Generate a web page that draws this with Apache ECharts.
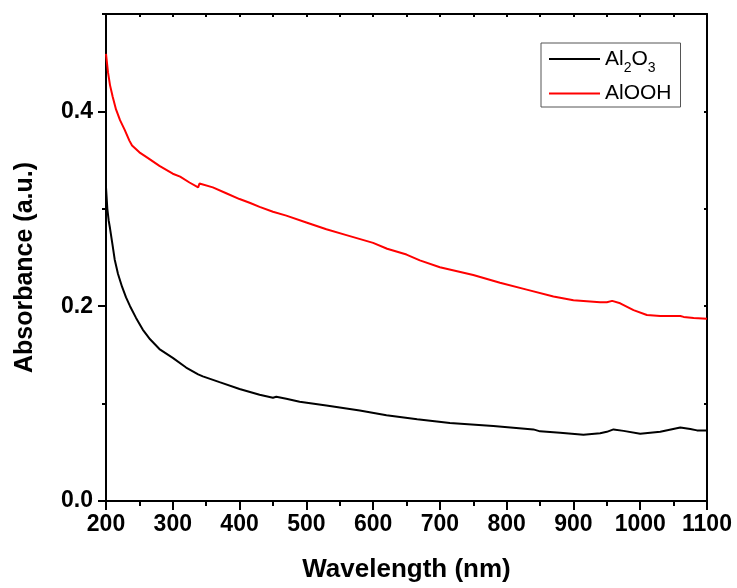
<!DOCTYPE html>
<html>
<head>
<meta charset="utf-8">
<script src="https://cdn.jsdelivr.net/npm/echarts@6/dist/echarts.min.js"></script>
<style>html,body{margin:0;padding:0;background:#fff}#c{width:737px;height:588px}</style>
</head>
<body>
<div id="c"></div>
<script>
// Al2O3 curve
var al2o3Wavelength = [200,202,204,206,210,213,218,224,230,236,245,255,266,280,300,320,338,340,345,370,400,430,450,455,470,490,530,580,620,666,715,780,840,850,880,915,940,950,960,975,1000,1030,1060,1075,1085,1100];
var al2o3Absorbance = [0.322,0.300,0.288,0.280,0.262,0.248,0.233,0.220,0.209,0.200,0.188,0.176,0.166,0.156,0.147,0.137,0.130,0.1305,0.128,0.122,0.115,0.109,0.106,0.107,0.105,0.102,0.098,0.093,0.088,0.084,0.080,0.077,0.0735,0.0715,0.070,0.068,0.0695,0.071,0.0735,0.072,0.069,0.071,0.0755,0.074,0.0725,0.0725];
// AlOOH curve
var aloohWavelength = [200,203,206,210,215,221,228,235,239,250,263,280,300,311,325,338,340,341,360,380,400,416,430,450,470,500,530,560,600,621,650,670,700,750,790,830,870,900,940,950,958,970,990,1010,1030,1050,1060,1065,1080,1100];
var aloohAbsorbance = [0.459,0.440,0.427,0.415,0.402,0.391,0.381,0.370,0.365,0.358,0.352,0.344,0.336,0.333,0.327,0.322,0.326,0.327,0.322,0.316,0.310,0.306,0.302,0.297,0.293,0.286,0.279,0.273,0.265,0.259,0.253,0.247,0.240,0.232,0.224,0.217,0.210,0.206,0.204,0.204,0.2055,0.203,0.196,0.191,0.190,0.190,0.190,0.189,0.188,0.187];
var xTicks = [200,300,400,500,600,700,800,900,1000,1100];
var yLabelValues = [0.0,0.2,0.4];
var yMinorValues = [0.1,0.3,0.5];

function pairs(xs, ys){ return xs.map(function(x,i){ return [x, ys[i]]; }); }

var FF = "'Liberation Sans', Arial, sans-serif";
var black = '#000';
var chart = echarts.init(document.getElementById('c'));
chart.setOption({
  animation: false,
  backgroundColor: '#fff',
  grid: {left: 106, right: 30, top: 14, bottom: 85, containLabel: false},
  legend: {
    orient: 'vertical', left: 541, top: 43,
    itemWidth: 51, itemHeight: 2, icon: 'rect', itemGap: 8,
    borderColor: '#555', borderWidth: 1, padding: [0, 9, 3, 8],
    data: ['Al2O3', 'AlOOH'],
    formatter: function(name){ return name === 'Al2O3' ? '{n|Al}{s|2}{n|O}{s|3}' : '{n|AlOOH}'; },
    textStyle: {
      color: black, fontFamily: FF,
      rich: {
        n: {fontSize: 21, fontFamily: FF, color: black, lineHeight: 22, verticalAlign: 'middle'},
        s: {fontSize: 14, fontFamily: FF, color: black, lineHeight: 22, verticalAlign: 'middle', padding: [18, 0, 0, 0]}
      }
    }
  },
  xAxis: [{
    type: 'value', min: 200, max: 1100, interval: 100, position: 'bottom',
    axisLine: {show: true, onZero: false, lineStyle: {color: black, width: 2}},
    axisTick: {show: true, inside: false, length: 9, lineStyle: {color: black, width: 2}},
    minorTick: {show: true, splitNumber: 2, length: 5, lineStyle: {color: black, width: 2}},
    splitLine: {show: false}, minorSplitLine: {show: false},
    axisLabel: {fontSize: 23, fontWeight: 'bold', color: black, margin: 12, fontFamily: FF,
      customValues: xTicks, formatter: function(v){ return String(v); }},
    name: 'Wavelength (nm)', nameLocation: 'middle', nameGap: 56,
    nameTextStyle: {fontSize: 26, fontWeight: 'bold', color: black, fontFamily: FF}
  }, {
    type: 'value', min: 200, max: 1100, interval: 50, position: 'top',
    axisLine: {show: true, onZero: false, lineStyle: {color: black, width: 2}},
    axisTick: {show: true, inside: true, length: 3, lineStyle: {color: black, width: 2}},
    axisLabel: {show: false}, splitLine: {show: false}
  }],
  yAxis: [{
    type: 'value', min: 0, max: 0.5, interval: 0.1, position: 'left',
    axisLine: {show: true, onZero: false, lineStyle: {color: black, width: 2}},
    axisTick: {show: true, inside: false, length: 8, customValues: yLabelValues, lineStyle: {color: black, width: 2}},
    splitLine: {show: false},
    axisLabel: {fontSize: 23, fontWeight: 'bold', color: black, margin: 13, fontFamily: FF,
      customValues: yLabelValues, formatter: function(v){ return v.toFixed(1); }},
    name: 'Absorbance (a.u.)', nameLocation: 'middle', nameGap: 68,
    nameTextStyle: {fontSize: 25, fontWeight: 'bold', color: black, fontFamily: FF, padding: [0, 20, 0, 0]}
  }, {
    type: 'value', min: 0, max: 0.5, interval: 0.1, position: 'left',
    axisLine: {show: false},
    axisTick: {show: true, inside: false, length: 4, customValues: yMinorValues, lineStyle: {color: black, width: 2}},
    axisLabel: {show: false}, splitLine: {show: false}
  }, {
    type: 'value', min: 0, max: 0.5, interval: 0.1, position: 'right',
    axisLine: {show: true, onZero: false, lineStyle: {color: black, width: 2}},
    axisTick: {show: true, inside: true, length: 3, lineStyle: {color: black, width: 2}},
    axisLabel: {show: false}, splitLine: {show: false}
  }],
  series: [{
    name: 'Al2O3', type: 'line', xAxisIndex: 0, yAxisIndex: 0,
    showSymbol: false, symbol: 'none', smooth: false,
    lineStyle: {color: '#000', width: 2}, itemStyle: {color: '#000'},
    data: pairs(al2o3Wavelength, al2o3Absorbance)
  }, {
    name: 'AlOOH', type: 'line', xAxisIndex: 0, yAxisIndex: 0,
    showSymbol: false, symbol: 'none', smooth: false,
    lineStyle: {color: '#ff0000', width: 2}, itemStyle: {color: '#ff0000'},
    data: pairs(aloohWavelength, aloohAbsorbance)
  }]
});
</script>
</body>
</html>
